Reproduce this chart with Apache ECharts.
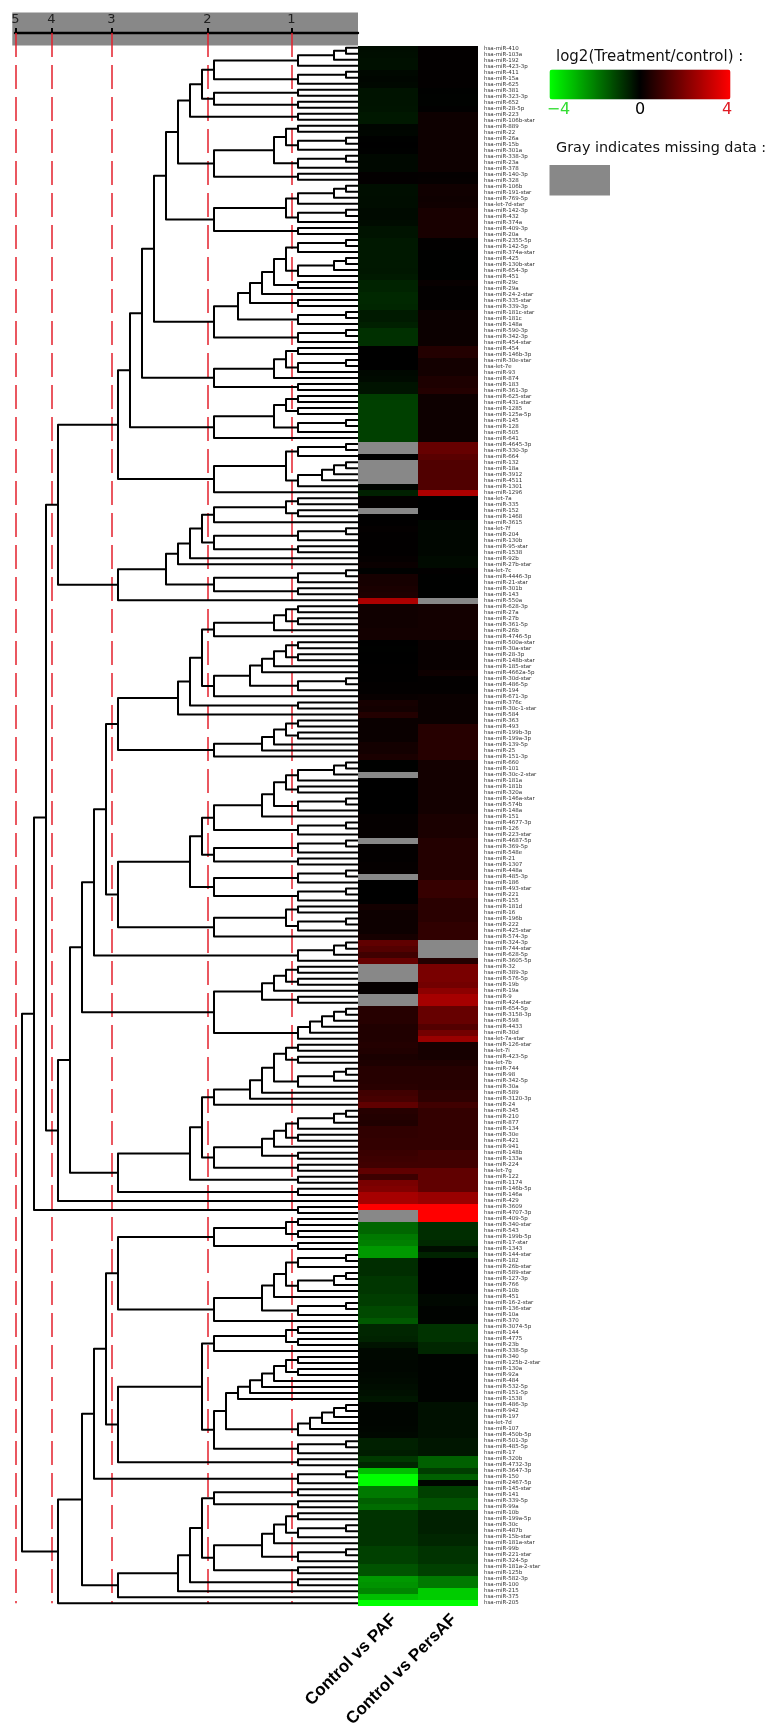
<!DOCTYPE html>
<html>
<head>
<meta charset="utf-8">
<style>html,body{margin:0;padding:0;background:#fff}#c{width:777px;height:1735px}</style>
<script src="https://cdn.jsdelivr.net/npm/echarts@6/dist/echarts.min.js"></script>
</head>
<body>
<div id="c"></div>
<script>
const columns = ['Control vs PAF', 'Control vs PersAF'];
const mirNames = [
'miR-410','miR-103a','miR-192','miR-423-3p','miR-411','miR-15a','miR-625','miR-381','miR-323-3p','miR-652',
'miR-28-5p','miR-223','miR-106b-star','miR-889','miR-22','miR-26a','miR-15b','miR-301a','miR-338-3p','miR-23a',
'miR-378','miR-140-3p','miR-328','miR-106b','miR-191-star','miR-769-5p','let-7d-star','miR-142-3p','miR-432','miR-374a',
'miR-409-3p','miR-20a','miR-2355-5p','miR-142-5p','miR-374a-star','miR-425','miR-130b-star','miR-654-3p','miR-451','miR-29c',
'miR-29a','miR-24-2-star','miR-335-star','miR-339-3p','miR-181c-star','miR-181c','miR-148a','miR-590-3p','miR-342-3p','miR-454-star',
'miR-454','miR-146b-3p','miR-30e-star','let-7e','miR-93','miR-874','miR-183','miR-361-3p','miR-625-star','miR-431-star',
'miR-1285','miR-125a-5p','miR-145','miR-128','miR-505','miR-641','miR-4645-3p','miR-330-3p','miR-664','miR-132',
'miR-18a','miR-3912','miR-4511','miR-1301','miR-1296','let-7a','miR-335','miR-152','miR-1468','miR-3615',
'let-7f','miR-204','miR-130b','miR-95-star','miR-1538','miR-92b','miR-27b-star','let-7c','miR-4446-3p','miR-21-star',
'miR-301b','miR-143','miR-550a','miR-628-3p','miR-27a','miR-27b','miR-361-5p','miR-26b','miR-4746-5p','miR-500a-star',
'miR-30a-star','miR-28-3p','miR-148b-star','miR-185-star','miR-4662a-5p','miR-30d-star','miR-486-5p','miR-194','miR-671-3p','miR-376c',
'miR-30c-1-star','miR-584','miR-363','miR-493','miR-199b-3p','miR-199a-3p','miR-139-5p','miR-25','miR-151-3p','miR-660',
'miR-101','miR-30c-2-star','miR-181a','miR-181b','miR-320a','miR-146a-star','miR-574b','miR-148a','miR-151','miR-4677-3p',
'miR-126','miR-223-star','miR-4687-5p','miR-369-5p','miR-548e','miR-21','miR-1307','miR-448a','miR-485-3p','miR-186',
'miR-493-star','miR-221','miR-155','miR-181d','miR-16','miR-196b','miR-222','miR-425-star','miR-574-3p','miR-324-3p',
'miR-744-star','miR-628-5p','miR-3605-5p','miR-32','miR-389-3p','miR-576-5p','miR-19b','miR-19a','miR-9','miR-424-star',
'miR-654-5p','miR-3158-3p','miR-598','miR-4433','miR-30d','let-7a-star','miR-126-star','let-7i','miR-423-5p','let-7b',
'miR-744','miR-98','miR-342-5p','miR-30a','miR-589','miR-3120-3p','miR-24','miR-345','miR-210','miR-877',
'miR-134','miR-30e','miR-421','miR-941','miR-148b','miR-133a','miR-224','let-7g','miR-122','miR-1174',
'miR-146b-5p','miR-146a','miR-429','miR-3609','miR-4707-3p','miR-409-5p','miR-340-star','miR-543','miR-199b-5p','miR-17-star',
'miR-1343','miR-144-star','miR-182','miR-26b-star','miR-589-star','miR-127-3p','miR-766','miR-10b','miR-451','miR-16-2-star',
'miR-136-star','miR-10a','miR-370','miR-3074-5p','miR-144','miR-4775','miR-23b','miR-338-5p','miR-340','miR-125b-2-star',
'miR-130a','miR-92a','miR-484','miR-532-5p','miR-151-5p','miR-1538','miR-486-3p','miR-942','miR-197','let-7d',
'miR-107','miR-450b-5p','miR-501-3p','miR-485-5p','miR-17','miR-320b','miR-4732-3p','miR-3647-3p','miR-150','miR-2467-5p',
'miR-145-star','miR-141','miR-339-5p','miR-99a','miR-10b','miR-199a-5p','miR-30c','miR-487b','miR-15b-star','miR-181a-star',
'miR-99b','miR-221-star','miR-324-5p','miR-181a-2-star','miR-125b','miR-582-3p','miR-100','miR-215','miR-375','miR-205'
];
const paf = [
-0.2,-0.22,-0.25,-0.25,-0.12,-0.1,-0.12,-0.3,-0.3,-0.3,
-0.32,-0.38,-0.38,-0.08,-0.1,-0.02,0,-0.02,-0.12,-0.12,
-0.12,0.05,0.05,-0.22,-0.22,-0.2,-0.2,-0.15,-0.15,-0.18,
-0.3,-0.3,-0.38,-0.38,-0.38,-0.38,-0.38,-0.36,-0.4,-0.55,
-0.55,-0.62,-0.62,-0.6,-0.4,-0.4,-0.5,-0.75,-0.75,-0.75,
0,0,0,0,-0.12,-0.15,-0.3,-0.3,-0.95,-1,
-1,-1,-1,-1,-1,-1,null,null,0,null,
null,null,null,-0.08,-0.5,0.04,0.04,null,0.02,0.02,
0.06,0.03,0.03,0.03,0.03,0.08,0.15,-0.02,0.35,0.35,
0.4,0.45,2.7,0.25,0.25,0.25,0.25,0.3,0.3,0,
-0.02,0,0,0.02,0.02,0.02,0.05,0.05,0.12,0.35,
0.3,0.55,0.15,0.15,0.15,0.15,0.3,0.3,0.4,-0.02,
-0.02,null,0,0,0,0,0,0,0.08,0.08,
0.08,0.08,null,0.05,0.05,0.05,0.08,0.08,null,0,
0,0,0,0.3,0.2,0.2,0.2,0.2,0.35,1.5,
1.3,1,1.6,null,null,null,0.1,0.1,null,null,
0.6,0.6,0.6,0.5,0.5,0.5,0.55,0.5,0.4,0.45,
0.6,0.6,0.6,0.65,1,1.1,1.5,0.6,0.55,0.5,
0.75,0.75,0.8,0.8,0.9,0.95,1,1.5,0.95,1.9,
2,2.6,2.6,4,null,null,-1.6,-1.6,-1.9,-2,
-2.4,-2.4,-0.7,-0.7,-0.7,-0.85,-0.85,-0.85,-0.95,-0.95,
-1.15,-1.15,-1.4,-0.6,-0.6,-0.55,-0.3,-0.12,-0.12,-0.1,
-0.1,-0.12,-0.15,-0.2,-0.25,-0.35,-0.08,-0.08,-0.08,-0.08,
-0.1,-0.12,-0.5,-0.5,-0.45,-0.9,-0.6,-3,-4,-4,
-1.9,-1.9,-1.5,-1.7,-0.8,-0.8,-0.8,-0.8,-0.8,-0.8,
-1,-1,-1,-1.3,-1.3,-2.4,-2.3,-2.1,-3,-4
];
const persAf = [
0.04,0.04,0.04,0.04,0.05,0.05,0.05,-0.02,-0.03,-0.03,
0.02,0.2,0.2,0.2,0.2,0.2,0.2,0.2,0.2,0.2,
0.2,0.07,0.08,0.25,0.25,0.22,0.25,0.38,0.38,0.38,
0.38,0.38,0.03,0.03,-0.02,-0.02,-0.02,-0.02,-0.02,0.13,
0.05,0.05,0.05,0.05,0.18,0.18,0.18,0.18,0.18,0.18,
0.55,0.55,0.3,0.3,0.3,0.45,0.45,0.55,0.2,0.2,
0.2,0.2,0.2,0.2,0.2,0.2,1.6,1.6,1.4,1.25,
1.25,1.25,1.25,1.25,2.7,0,0,0,0,-0.1,
-0.1,-0.1,-0.1,-0.1,-0.1,-0.15,-0.15,0.03,-0.02,-0.02,
-0.02,-0.02,null,0.3,0.3,0.3,0.3,0.3,0.3,0.12,
0.12,0.12,0.12,0.12,0.22,0.05,0.05,0.05,0.15,0.15,
0.15,0.15,0.15,0.6,0.6,0.6,0.6,0.6,0.6,0.3,
0.3,0.3,0.3,0.3,0.3,0.3,0.3,0.3,0.4,0.4,
0.4,0.4,0.55,0.55,0.55,0.55,0.55,0.55,0.55,0.85,
0.85,0.85,0.65,0.65,0.65,0.65,0.75,0.75,0.75,null,
null,null,0.55,1.9,1.9,1.9,1.8,2.2,2.6,2.6,
1.6,1.6,1.6,1.3,1.8,2.4,0.35,0.35,0.35,0.45,
0.6,0.6,0.6,0.6,0.7,0.7,1,0.8,0.8,0.8,
0.8,0.8,0.8,0.8,1,1,1,1.5,1.5,1.5,
1.5,2.4,2.4,4,4,4,-0.7,-0.7,-0.7,-0.65,
-0.2,-0.55,0,0,0,0,0,0,-0.12,-0.12,
-0.05,-0.05,-0.05,-0.8,-0.8,-0.8,-0.6,-0.6,-0.05,-0.05,
-0.05,-0.05,-0.05,-0.05,-0.05,-0.05,-0.25,-0.25,-0.25,-0.25,
-0.25,-0.25,-0.35,-0.35,-0.35,-1.5,-1.5,-0.95,-1.5,-0.1,
-1,-1,-1.3,-1.3,-0.5,-0.5,-0.5,-0.5,-0.6,-0.6,
-0.8,-0.8,-0.8,-1,-1,-1.9,-1.9,-3.2,-3.2,-4
];

/* Merge tree: [level, child, child]; 0 is the next leaf, in row order. */
const clusterT1 = [16,[15,[14,[13,[12,[5,[2,[1,0,0],0],0],[5,[1,0,0],0]],[12,[5,0,0],[5,0,0]]],[5,0,0]],[12,[7,[6,[5,0,0],[5,[1,0,0],0]],[5,[1,0,0],0]],[5,0,0]]],[12,[6,[5,[2,[1,0,0],0],0],[5,[1,0,0],0]],[5,0,0]]];
const clusterT2 = [12,[10,[9,[8,[7,[6,[5,[1,0,0],0],[5,[2,[1,0,0],0],0]],[5,0,0]],0],[5,0,0]],[5,[1,0,0],0]],[5,[1,0,0],0]];
const clusterT3 = [12,[7,[6,[5,0,0],[5,[1,0,0],0]],0],[5,0,0]];
const clusterT4 = [12,[7,[6,[5,0,0],[5,0,0]],[5,[1,0,0],0]],0];
const clusterT5 = [12,[6,[5,[1,0,0],0],[5,[3,[2,[1,0,0],0],0],0]],0];
const clusterA = [20,[19,[18,[17,clusterT1,clusterT2],clusterT3],clusterT4],clusterT5];
const clusterB = [20,[16,[15,[14,[13,[12,[6,[5,0,0],[5,0,0]],0],[12,[5,[1,0,0],0],[5,0,0]]],0],0],[12,[5,[1,0,0],0],[5,0,0]]],0];
const clusterC1 = [15,[14,[13,[12,[7,[6,[5,0,0],[5,0,0]],0],0],[12,[9,[8,[7,[6,[5,0,0],[5,0,0]],0],0],[5,[1,0,0],0]],0]],[5,0,0]],0];
const clusterC2 = [12,[8,[7,[6,[5,0,0],[5,0,0]],0],0],0];
const clusterC3 = [14,[13,[12,[8,[7,[6,[5,[2,[1,0,0],0],0],[5,0,0]],[5,[1,0,0],0]],0],[5,[1,0,0],0]],[12,[5,[1,0,0],0],[5,0,0]]],[12,[5,[1,0,0],0],[5,[1,0,0],0]]];
const clusterC4 = [12,[6,[5,0,0],[5,[1,0,0],0]],0];
const clusterC5 = [5,[2,[1,0,0],0],0];
const clusterC6 = [12,[8,[7,[6,[5,0,0],[5,0,0]],0],[5,0,0]],[5,[4,[3,[2,[1,0,0],0],0],0],0]];
const clusterC7 = [12,[9,[8,[7,[6,[5,0,0],[5,0,0]],[5,[2,[1,0,0],0],0]],0],0],0];
const clusterC8 = [12,[8,[7,[6,[5,[2,[1,0,0],0],0],[5,0,0]],0],[5,0,0]],[5,0,0]];
const clusterC9 = [20,[14,[13,clusterC7,clusterC8],[5,0,0]],[5,0,0]];
const clusterC = [25,[24,[23,[22,[21,[20,clusterC1,clusterC2],[20,clusterC3,clusterC4]],clusterC5],clusterC6],clusterC9],0];
const clusterE1 = [12,[6,[5,0,0],[5,0,0]],[5,0,0]];
const clusterE2 = [12,[8,[7,[6,[5,[1,0,0],0],[5,[2,[1,0,0],0],0]],0],[5,[1,0,0],0]],0];
const clusterE3 = [12,[6,[5,0,0],[5,0,0]],0];
const clusterE4 = [11,[10,[9,[8,[7,[6,[5,0,0],[5,0,0]],0],0],0],0],[5,[4,[3,[2,[1,0,0],0],0],0],0]];
const clusterE5 = [5,[1,0,0],0];
const clusterE = [22,[21,[20,clusterE1,clusterE2],[20,[13,clusterE3,[12,clusterE4,clusterE5]],[5,0,0]]],[5,[1,0,0],0]];
const clusterF1 = [12,[5,0,0],[5,0,0]];
const clusterF2 = [12,[8,[7,[6,[5,0,0],[5,[1,0,0],0]],0],[5,[1,0,0],0]],[5,0,0]];
const clusterF = [20,[15,[14,[13,clusterF1,clusterF2],[5,0,0]],0],0];
const dendrogramRoot = [28,[27,[26,[25,clusterA,clusterB],clusterC],[5,0,0]],[25,[23,clusterE,clusterF],0]];

const scaleNames = ['5','4','3','2','1'];
const scaleLevels = [28.55,25.55,20.55,12.55,5.55];
const legendTicks = [{t:'\u22124',v:-4,c:'#33dd33'},{t:'0',v:0,c:'#000000'},{t:'4',v:4,c:'#e01b24'}];

const labels = mirNames.map(n => 'hsa-' + n);
const heat = [], missing = [];
[paf, persAf].forEach((col, c) => col.forEach((v, r) => {
  if (v === null) missing.push([c, r, 1]); else heat.push([c, r, v]);
}));

let leafCounter = 0;
const merges = [];
function walk(node) {
  if (node === 0) return {level: 0, row: leafCounter++};
  const a = walk(node[1]), b = walk(node[2]);
  merges.push([node[0], a.row, b.row, a.level, b.level]);
  return {level: node[0], row: (a.row + b.row) / 2};
}
walk(dendrogramRoot);

const chart = echarts.init(document.getElementById('c'), null, {renderer: 'canvas'});
const GRAY = '#888888', RED = '#e3202c';
const legendX = v => 549.5 + (v + 4) / 8 * 181;
function cell(api, fill) {
  const p = api.coord([api.value(0), api.value(1)]), s = api.size([1, 1]);
  const x0 = Math.round(p[0] - s[0] / 2), y0 = Math.round(p[1] - s[1] / 2);
  const x1 = Math.round(p[0] + s[0] / 2), y1 = Math.round(p[1] + s[1] / 2);
  return {type: 'rect', shape: {x: x0, y: y0, width: x1 - x0, height: y1 - y0}, style: {fill: fill, stroke: null, lineWidth: 0}};
}
chart.setOption({
  animation: false,
  backgroundColor: '#ffffff',
  grid: [
    {left: 358, top: 46, width: 120, height: 1560},
    {left: 15, top: 33, width: 343, height: 1570.3}
  ],
  xAxis: [
    {gridIndex: 0, type: 'category', data: columns, position: 'bottom',
     axisLine: {show: false}, axisTick: {show: false}, splitLine: {show: false},
     axisLabel: {rotate: 45, interval: 0, margin: 5, align: 'right', verticalAlign: 'top', fontFamily: 'Liberation Sans', fontWeight: 'bold', fontSize: 17, color: '#000'}},
    {gridIndex: 1, type: 'value', position: 'top', inverse: true, min: 0, max: 28.583,
     axisLine: {show: true, onZero: false, lineStyle: {color: '#000', width: 2.4}},
     axisTick: {show: true, length: 5, customValues: scaleLevels, lineStyle: {color: '#000', width: 2}},
     splitLine: {show: false},
     axisLabel: {customValues: scaleLevels, margin: 7, fontFamily: 'DejaVu Sans', fontSize: 13, color: '#222',
       formatter: v => scaleNames[scaleLevels.indexOf(v)]}}
  ],
  yAxis: [
    {gridIndex: 0, type: 'category', data: labels, inverse: true, position: 'right',
     axisLine: {show: false}, axisTick: {show: false}, splitLine: {show: false},
     axisLabel: {interval: 0, margin: 6, fontFamily: 'DejaVu Sans', fontSize: 5.5, color: '#333'}},
    {gridIndex: 1, type: 'value', inverse: true, min: -2.448, max: 259, show: false, splitLine: {show: false}}
  ],
  visualMap: [
    {type: 'continuous', seriesIndex: 0, dimension: 2, min: -4, max: 4, orient: 'horizontal', left: 549.5, top: 69.5,
     itemWidth: 30, itemHeight: 181, padding: 0, calculable: false, realtime: false, hoverLink: false,
     text: null, inRange: {color: ['#00ff00', '#000000', '#ff0000']}}
  ],
  series: [
    {type: 'custom', xAxisIndex: 0, yAxisIndex: 0, data: heat, silent: true, encode: {x: 0, y: 1}, progressive: 0,
     renderItem: (p, api) => cell(api, api.visual('color'))},
    {type: 'custom', xAxisIndex: 0, yAxisIndex: 0, data: missing, silent: true, encode: {x: 0, y: 1}, progressive: 0,
     renderItem: (p, api) => cell(api, GRAY)},
    {type: 'custom', xAxisIndex: 1, yAxisIndex: 1, data: merges, silent: true, clip: false, z: 4, progressive: 0,
     encode: {x: 0, y: 1},
     renderItem: (p, api) => {
       const L = api.value(0), ra = api.value(1), rb = api.value(2), la = api.value(3), lb = api.value(4);
       return {type: 'polyline', shape: {points: [api.coord([la, ra]), api.coord([L, ra]), api.coord([L, rb]), api.coord([lb, rb])]},
         style: {stroke: '#000', fill: null, lineWidth: 2, lineJoin: 'round'}};
     },
     markLine: {silent: true, symbol: 'none', z: 1, animation: false, label: {show: false},
       lineStyle: {color: RED, width: 1.5, type: [24, 8]},
       data: scaleLevels.map(v => ({xAxis: v}))}}
  ],
  graphic: [
    {type: 'rect', z: -1, shape: {x: 12.3, y: 12.5, width: 345.7, height: 33}, style: {fill: GRAY}},
    {type: 'text', x: 556, y: 57, style: {text: 'log2(Treatment/control) :', fontFamily: 'DejaVu Sans', fontSize: 15, fill: '#111', textVerticalAlign: 'middle'}},
    {type: 'text', x: 556, y: 148, style: {text: 'Gray indicates missing data :', fontFamily: 'DejaVu Sans', fontSize: 14.4, fill: '#111', textVerticalAlign: 'middle'}},
    {type: 'rect', shape: {x: 549.5, y: 165, width: 60.5, height: 30.5}, style: {fill: GRAY}}
  ].concat(legendTicks.map(k => ({type: 'text', x: Math.min(legendX(k.v), 727) + (k.v < 0 ? 9 : 0), y: 110,
    style: {text: k.t, fontFamily: 'DejaVu Sans', fontSize: 16, fill: k.c, textAlign: 'center', textVerticalAlign: 'middle'}})))
});
</script>
</body>
</html>
